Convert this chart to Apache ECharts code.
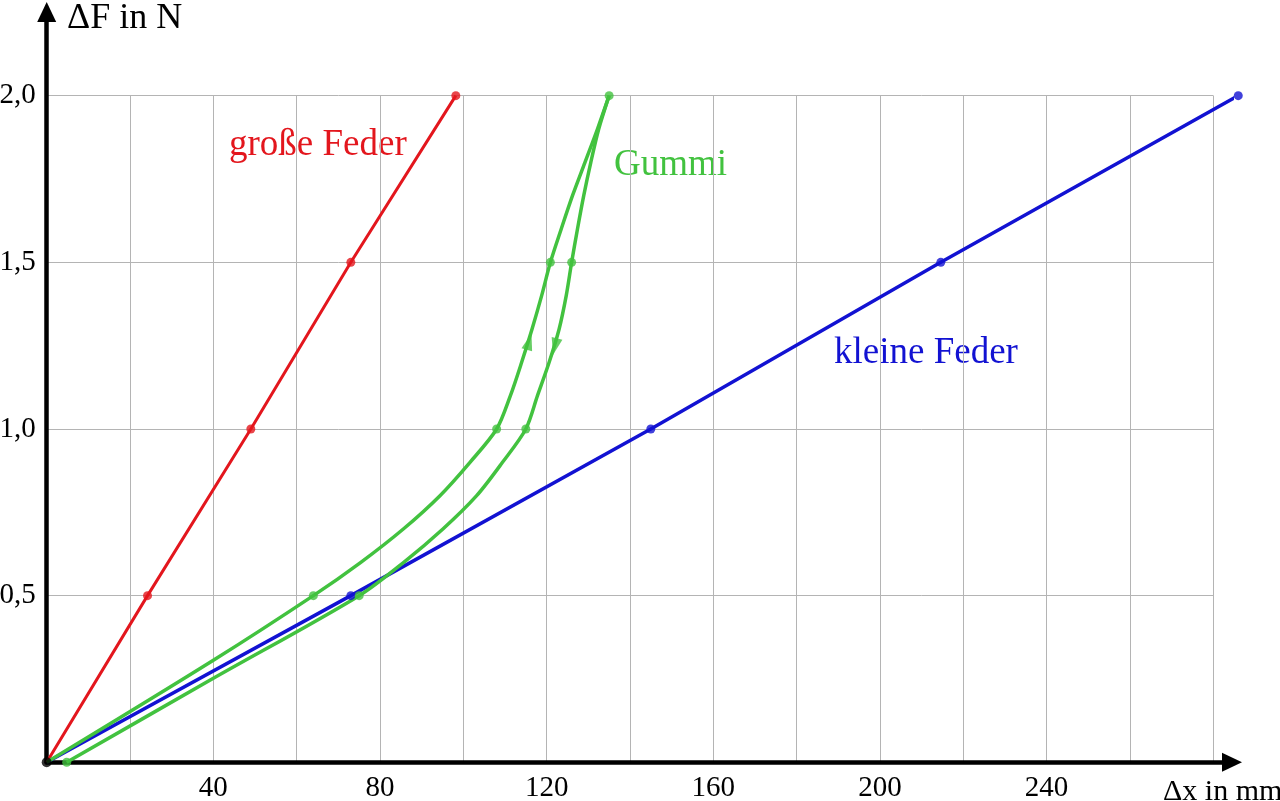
<!DOCTYPE html>
<html>
<head>
<meta charset="utf-8">
<script src="https://cdn.jsdelivr.net/npm/echarts@6/dist/echarts.min.js"></script>
<style>
html,body{margin:0;padding:0;background:#fff;}
#c{width:1280px;height:801px;}
</style>
</head>
<body>
<div id="c"></div>
<script>
// ---- data (Δx in mm, ΔF in N) ----
const grosseFeder = [[0,0],[24.2,0.5],[49,1.0],[73,1.5],[98.2,2.0]];
const kleineFeder = [[0,0],[73,0.5],[145,1.0],[214.6,1.5],[286,2.0]];
// Gummi loading branch (curve trace, read every 0.1 N)
const gummiUp = [[0,0],[40,0.306],[64,0.5],[75.4,0.6],[85.6,0.7],[94.4,0.8],[101.6,0.9],[108,1.0],[111.3,1.1],[114,1.2],[116.5,1.3],[118.8,1.4],[120.9,1.5],[123.5,1.6],[126.2,1.7],[129.2,1.8],[132.2,1.9],[135,2.0]];
// Gummi unloading branch (curve trace, read every 0.1 N)
const gummiDown = [[135,2.0],[132.5,1.9],[130.6,1.8],[128.9,1.7],[127.4,1.6],[126,1.5],[124.7,1.4],[123,1.3],[120.6,1.2],[117.8,1.1],[115,1.0],[109.4,0.9],[103.2,0.8],[95.1,0.7],[85.7,0.6],[75,0.5],[40,0.252],[4.8,0]];
// measured points
const gummiPoints = [[64,0.5],[108,1.0],[120.9,1.5],[135,2.0],[126,1.5],[115,1.0],[75,0.5],[4.8,0]];
const grossePoints = [[24.2,0.5],[49,1.0],[73,1.5],[98.2,2.0]];
const kleinePoints = [[73,0.5],[145,1.0],[214.6,1.5],[286,2.0]];
const origin = [[0,0]];
// direction arrows on the Gummi loop
const arrowUp = [[115.8,1.262]];
const arrowDown = [[122,1.247]];
// axes
const xTickLabels = [40,80,120,160,200,240];
const yTickLabels = [0.5,1.0,1.5,2.0];

const RED='#e3161d', GREEN='#42c23f', BLUE='#1212d2';
const FONT='Liberation Serif';

const chart = echarts.init(document.getElementById('c'), null, {renderer:'canvas'});
chart.setOption({
  animation:false,
  backgroundColor:'#fff',
  grid:[
    {left:46.7, top:95.7, width:1166.7, bottom:38.7, containLabel:false, outerBoundsMode:'none'},
    {left:46.7, top:12, right:48, bottom:38.7, containLabel:false, outerBoundsMode:'none'}
  ],
  xAxis:[
    {gridIndex:0, type:'value', min:0, max:280, interval:20,
     axisLine:{show:false}, axisTick:{show:false}, axisLabel:{show:false},
     splitLine:{show:true, lineStyle:{color:'#b4b4b4', width:1}}},
    {gridIndex:1, type:'value', min:0, max:284.5, interval:20,
     axisLine:{show:true, onZero:false, lineStyle:{color:'#000', width:4.5}, symbol:['none','triangle'], symbolSize:[19,20]},
     axisTick:{show:false}, splitLine:{show:false},
     axisLabel:{color:'#000', fontFamily:FONT, fontSize:29, margin:12,
       formatter:v=> xTickLabels.includes(v) ? String(v) : ''}}
  ],
  yAxis:[
    {gridIndex:0, type:'value', min:0, max:2, interval:0.5,
     axisLine:{show:false}, axisTick:{show:false}, axisLabel:{show:false},
     splitLine:{show:true, lineStyle:{color:'#b4b4b4', width:1}}},
    {gridIndex:1, type:'value', min:0, max:2.251, interval:0.5,
     axisLine:{show:true, onZero:false, lineStyle:{color:'#000', width:4.5}, symbol:['none','triangle'], symbolSize:[19,20]},
     axisTick:{show:false}, splitLine:{show:false},
     axisLabel:{color:'#000', fontFamily:FONT, fontSize:29, margin:11,
       formatter:v=> yTickLabels.some(t=>Math.abs(t-v)<1e-9) ? v.toFixed(1).replace('.',',') : ''}}
  ],
  graphic:[
    {type:'text', left:67, top:1, style:{text:'ΔF in N', fill:'#000', font:'36px "Liberation Serif"'}},
    {type:'text', left:1163, top:777, style:{text:'Δx in mm', fill:'#000', font:'30px "Liberation Serif"'}},
    {type:'text', left:229, top:127, style:{text:'große Feder', fill:RED, font:'37px "Liberation Serif"'}},
    {type:'text', left:614, top:147, style:{text:'Gummi', fill:GREEN, font:'37px "Liberation Serif"'}},
    {type:'text', left:834, top:335, style:{text:'kleine Feder', fill:BLUE, font:'37px "Liberation Serif"'}}
  ],
  series:[
    {type:'line', xAxisIndex:1, yAxisIndex:1, data:kleineFeder, symbol:'none', clip:false,
     lineStyle:{color:BLUE, width:3.5}, z:3},
    {type:'line', xAxisIndex:1, yAxisIndex:1, data:grosseFeder, symbol:'none', clip:false,
     lineStyle:{color:RED, width:3}, z:3},
    {type:'line', xAxisIndex:1, yAxisIndex:1, data:gummiUp, symbol:'none', smooth:0.3, clip:false,
     lineStyle:{color:GREEN, width:3.5}, z:4},
    {type:'line', xAxisIndex:1, yAxisIndex:1, data:gummiDown, symbol:'none', smooth:0.3, clip:false,
     lineStyle:{color:GREEN, width:3.5}, z:4},
    {type:'scatter', xAxisIndex:1, yAxisIndex:1, data:kleinePoints, symbol:'circle', symbolSize:9, clip:false,
     itemStyle:{color:BLUE}, z:5},
    {type:'scatter', xAxisIndex:1, yAxisIndex:1, data:grossePoints, symbol:'circle', symbolSize:9, clip:false,
     itemStyle:{color:RED}, z:5},
    {type:'scatter', xAxisIndex:1, yAxisIndex:1, data:gummiPoints, symbol:'circle', symbolSize:9, clip:false,
     itemStyle:{color:GREEN}, z:5},
    {type:'scatter', xAxisIndex:1, yAxisIndex:1, data:arrowUp, symbol:'triangle', symbolSize:[11,17], symbolRotate:-16, clip:false,
     itemStyle:{color:GREEN}, z:5},
    {type:'scatter', xAxisIndex:1, yAxisIndex:1, data:arrowDown, symbol:'triangle', symbolSize:[11,17], symbolRotate:166, clip:false,
     itemStyle:{color:GREEN}, z:5},
    {type:'scatter', xAxisIndex:1, yAxisIndex:1, data:origin, symbol:'circle', symbolSize:10, clip:false,
     itemStyle:{color:'#000'}, z:6}
  ]
});
</script>
</body>
</html>
